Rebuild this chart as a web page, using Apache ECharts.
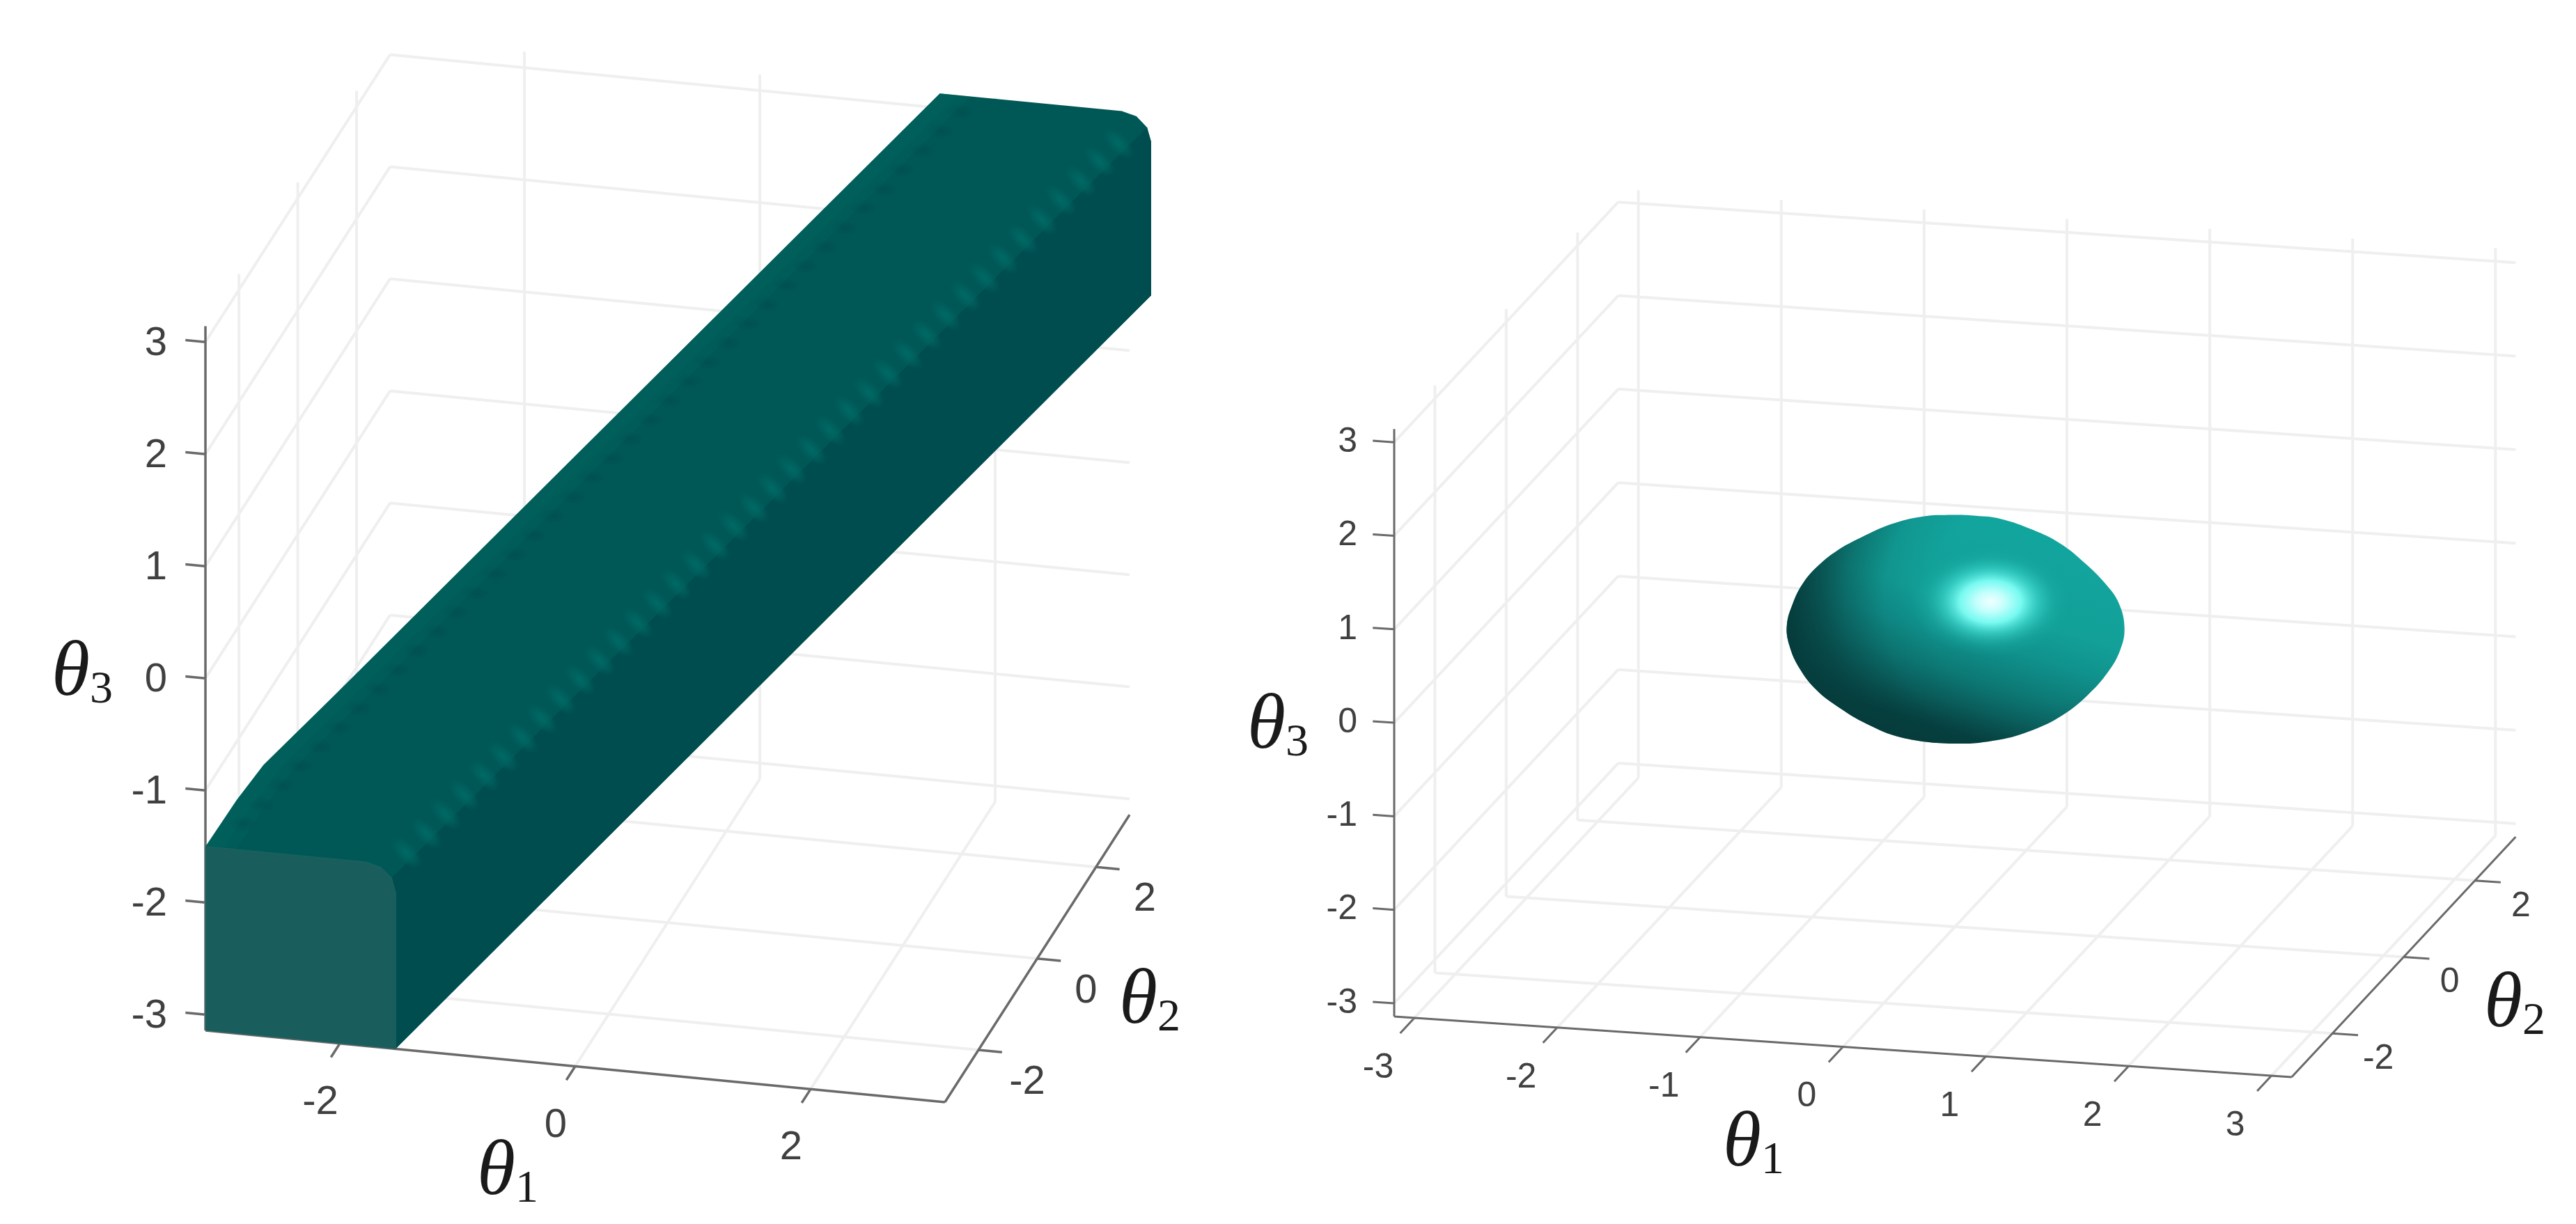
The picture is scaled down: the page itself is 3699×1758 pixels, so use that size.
<!DOCTYPE html>
<html>
<head>
<meta charset="utf-8">
<style>
  html, body { margin: 0; padding: 0; background: #fff; }
  #main { width: 3699px; height: 1758px; filter: blur(0.7px); }
</style>
<script src="https://cdn.jsdelivr.net/npm/echarts@6/dist/echarts.min.js"></script>
</head>
<body>
<div id="main"></div>
<script>
// axis limits and ticks, all in theta units
const thetaLim = 3.1416;
const leftTicks1 = [-2, 0, 2];
const leftTicks2 = [-2, 0, 2];
const leftTicks3 = [-3, -2, -1, 0, 1, 2, 3];
const rightTicks1 = [-3, -2, -1, 0, 1, 2, 3];
const rightTicks2 = [-2, 0, 2];
const rightTicks3 = [-3, -2, -1, 0, 1, 2, 3];

// left panel: tube, upper left edge
const edgeT1 = [-3.14, -2.94, -2.77, -2.33, 1.53];
const edgeT2 = [-3.14, -2.88, -2.65, -2.04, 3.14];
const edgeT3 = [-1.5, -1.17, -0.935, -0.528, 3.13];
// tube, near section (theta2 = -pi) outline as theta1 / theta3
const nearT1 = [-3.14, -1.525, -1.525, -1.56, -1.65, -1.775, -3.14];
const nearT3 = [-3.14, -3.14, -1.75, -1.62, -1.535, -1.5, -1.5];
// tube, far section (theta2 = pi) outline, lower right to upper left
const farT1 = [3.325, 3.325, 3.29, 3.2, 3.075, 1.53];
const farT3 = [1.51, 2.88, 3.005, 3.095, 3.13, 3.13];

// ripples along the right ridge of the tube
const rippleT2 = [-2.96, -2.8, -2.64, -2.48, -2.32, -2.16, -2, -1.84, -1.68, -1.52, -1.36, -1.2, -1.04, -0.88, -0.72, -0.56, -0.4, -0.24, -0.08, 0.08, 0.24, 0.4, 0.56, 0.72, 0.88, 1.04, 1.2, 1.36, 1.52, 1.68, 1.84, 2, 2.16, 2.32, 2.48, 2.64, 2.8, 2.96];
const rippleT1 = [-1.48, -1.35, -1.23, -1.11, -0.98, -0.86, -0.735, -0.61, -0.49, -0.365, -0.24, -0.12, 0.006, 0.13, 0.25, 0.38, 0.5, 0.62, 0.75, 0.87, 0.99, 1.12, 1.24, 1.36, 1.49, 1.61, 1.735, 1.86, 1.98, 2.11, 2.23, 2.35, 2.475, 2.6, 2.72, 2.85, 2.97, 3.09];
const rippleT3 = [-1.46, -1.34, -1.22, -1.1, -0.98, -0.865, -0.75, -0.63, -0.51, -0.39, -0.27, -0.155, -0.04, 0.08, 0.2, 0.32, 0.44, 0.56, 0.67, 0.79, 0.91, 1.03, 1.15, 1.27, 1.38, 1.5, 1.62, 1.74, 1.86, 1.98, 2.09, 2.21, 2.33, 2.45, 2.57, 2.69, 2.81, 2.92];
// dark dimples along the upper left edge, same theta2 stations as the ripples
const dimpleT1 = [-2.87, -2.745, -2.62, -2.495, -2.37, -2.245, -2.12, -1.995, -1.87, -1.745, -1.62, -1.49, -1.37, -1.24, -1.12, -0.99, -0.87, -0.74, -0.62, -0.49, -0.37, -0.24, -0.12, 0.01, 0.13, 0.26, 0.38, 0.51, 0.63, 0.76, 0.88, 1.01, 1.13, 1.26, 1.38, 1.51, 1.63, 1.76];
const dimpleT3 = [-1.345, -1.226, -1.107, -0.988, -0.869, -0.75, -0.631, -0.512, -0.393, -0.274, -0.155, -0.036, 0.083, 0.202, 0.321, 0.44, 0.559, 0.678, 0.797, 0.916, 1.035, 1.154, 1.273, 1.392, 1.511, 1.63, 1.749, 1.868, 1.987, 2.106, 2.225, 2.344, 2.463, 2.582, 2.701, 2.82, 2.939, 3.058];

// right panel: blob outline on the plane theta2 = 0, and its highlight
const blobT1 = [-0.011, -0.237, -0.446, -0.655, -0.829, -0.968, -1.064, -1.134, -1.177, -1.159, -1.09, -0.968, -0.811, -0.62, -0.376, -0.011, 0.303, 0.546, 0.755, 0.929, 1.068, 1.156, 1.187, 1.147, 1.051, 0.912, 0.738, 0.546, 0.32, 0.146];
const blobT3 = [1.261, 1.219, 1.118, 0.955, 0.791, 0.604, 0.421, 0.202, -0.042, -0.253, -0.486, -0.712, -0.882, -1.035, -1.156, -1.184, -1.112, -0.981, -0.8, -0.569, -0.316, -0.068, 0.175, 0.437, 0.639, 0.838, 1.032, 1.159, 1.254, 1.269];
const highlightT1 = 0.25;
const highlightT3 = 0.36;

// orthographic view of each panel, in page pixels, from the corner (-pi,-pi,-pi)
const leftView = {
  ox: 295, oy: 1480, e1: [169, 16.4], e2: [42.2, -65.7], e3: -161,
  font: 58, axisWidth: 3.5,
  zLabelX: -55, zLabelY: 3, xLabel: [-28, 85], yLabel: [70, 47],
  tickZ: 0.17, tickX: 0.3, tickY: 0.2
};
const rightView = {
  ox: 2002, oy: 1460, e1: [205.1, 13.85], e2: [51.2, -54.9], e3: -134.3,
  font: 50, axisWidth: 3,
  zLabelX: -53, zLabelY: 0, xLabel: [-52, 72], yLabel: [66, 37],
  tickZ: 0.15, tickX: 0.4, tickY: 0.18
};

function project(view, t1, t2, t3) {
  const a = t1 + thetaLim, b = t2 + thetaLim, c = t3 + thetaLim;
  return [
    view.ox + view.e1[0] * a + view.e2[0] * b,
    view.oy + view.e1[1] * a + view.e2[1] * b + view.e3 * c
  ];
}

// turn a list of [from, to] theta segments into line series data with gaps
function segmentsToLine(view, segs) {
  const out = [];
  segs.forEach(function (s) {
    out.push(project(view, s[0][0], s[0][1], s[0][2]));
    out.push(project(view, s[1][0], s[1][1], s[1][2]));
    out.push([null, null]);
  });
  return out;
}

function gridSegments(ticks1, ticks2, ticks3) {
  const L = thetaLim, segs = [];
  ticks1.forEach(function (t) {
    segs.push([[t, -L, -L], [t, L, -L]]);
    segs.push([[t, L, -L], [t, L, L]]);
  });
  ticks2.forEach(function (t) {
    segs.push([[-L, t, -L], [L, t, -L]]);
    segs.push([[-L, t, -L], [-L, t, L]]);
  });
  ticks3.forEach(function (t) {
    segs.push([[-L, -L, t], [-L, L, t]]);
    segs.push([[-L, L, t], [L, L, t]]);
  });
  return segs;
}

function axisSegments(view, ticks1, ticks2, ticks3) {
  const L = thetaLim;
  const segs = [
    [[-L, -L, -L], [-L, -L, L]],
    [[-L, -L, -L], [L, -L, -L]],
    [[L, -L, -L], [L, L, -L]]
  ];
  ticks1.forEach(function (t) { segs.push([[t, -L, -L], [t, -L - view.tickX, -L]]); });
  ticks2.forEach(function (t) { segs.push([[L, t, -L], [L + view.tickY, t, -L]]); });
  ticks3.forEach(function (t) { segs.push([[-L, -L, t], [-L - view.tickZ, -L, t]]); });
  return segs;
}

function lineSeries(name, data, index, color, width, z) {
  return {
    name: name,
    type: 'line',
    xAxisIndex: index,
    yAxisIndex: index,
    data: data,
    symbol: 'none',
    silent: true,
    clip: false,
    connectNulls: false,
    animation: false,
    lineStyle: { color: color, width: width },
    z: z
  };
}

// polygons, circles and text all go through one custom series per panel
function shapeSeries(name, items, index, z) {
  return {
    name: name,
    type: 'custom',
    coordinateSystem: 'cartesian2d',
    xAxisIndex: index,
    yAxisIndex: index,
    silent: true,
    clip: false,
    animation: false,
    z: z,
    data: items.map(function (it, i) { return [i]; }),
    renderItem: function (params, api) {
      const it = items[params.dataIndex];
      if (it.kind === 'polygon') {
        return {
          type: 'polygon',
          shape: { points: it.points.map(function (p) { return api.coord(p); }), smooth: it.smooth || 0 },
          style: it.style
        };
      }
      const at = api.coord(it.at);
      if (it.kind === 'spot') {
        return {
          type: 'circle',
          x: at[0], y: at[1],
          rotation: it.rotation || 0,
          scaleX: it.scaleX, scaleY: it.scaleY,
          shape: { cx: 0, cy: 0, r: it.r },
          style: it.style
        };
      }
      return {
        type: 'text',
        style: Object.assign({ x: at[0] + it.dx, y: at[1] + it.dy, text: it.text }, it.style)
      };
    }
  };
}

function tickLabels(view, ticks1, ticks2, ticks3) {
  const L = thetaLim, items = [];
  const style = {
    fill: '#404040',
    font: view.font + 'px "Liberation Sans"',
    align: 'center',
    verticalAlign: 'middle'
  };
  ticks1.forEach(function (t) {
    items.push({ kind: 'text', at: project(view, t, -L, -L), dx: view.xLabel[0], dy: view.xLabel[1], text: String(t), style: style });
  });
  ticks2.forEach(function (t) {
    items.push({ kind: 'text', at: project(view, L, t, -L), dx: view.yLabel[0], dy: view.yLabel[1], text: String(t), style: style });
  });
  ticks3.forEach(function (t) {
    items.push({
      kind: 'text', at: project(view, -L, -L, t), dx: view.zLabelX, dy: view.zLabelY, text: String(t),
      style: Object.assign({}, style, { align: 'right' })
    });
  });
  return items;
}

function thetaName(text, x, y) {
  return {
    kind: 'text', at: [x, y], dx: 0, dy: 0,
    text: '{t|θ}{s|' + text + '}',
    style: {
      align: 'center',
      verticalAlign: 'middle',
      rich: {
        t: { font: 'italic 112px "Liberation Serif"', fill: '#1a1a1a', lineHeight: 112, verticalAlign: 'middle' },
        s: { font: '66px "Liberation Serif"', fill: '#1a1a1a', lineHeight: 66, padding: [44, 0, 0, 0], verticalAlign: 'bottom' }
      }
    }
  };
}

function tubeItems(view) {
  const L = thetaLim, items = [];
  const near = nearT1.map(function (t, i) { return project(view, t, -L, nearT3[i]); });
  const far = farT1.map(function (t, i) { return project(view, t, L, farT3[i]); });
  const edge = edgeT1.map(function (t, i) { return project(view, t, edgeT2[i], edgeT3[i]); });

  // whole outline in the colour of the top face
  items.push({
    kind: 'polygon',
    points: [project(view, -3.14, -L, -3.14), project(view, -1.525, -L, -3.14)]
      .concat(far.slice(0, 5))
      .concat(edge.slice().reverse()),
    style: { fill: '#005856' }
  });
  // lighter lane under the upper left edge
  [0.26, 0.15].forEach(function (inset) {
    items.push({
      kind: 'polygon',
      points: edge.concat(edgeT1.slice().reverse().map(function (t, i) {
        const k = edgeT1.length - 1 - i;
        return project(view, t + inset, edgeT2[k], edgeT3[k]);
      })),
      style: { fill: 'rgba(0,104,100,0.25)' }
    });
  });
  dimpleT1.forEach(function (t, i) {
    items.push({
      kind: 'spot', at: project(view, t, rippleT2[i], dimpleT3[i]), r: 21, scaleX: 1, scaleY: 0.55,
      style: {
        fill: {
          type: 'radial', x: 0.5, y: 0.5, r: 0.5, colorStops: [
            { offset: 0, color: 'rgba(0,72,74,0.45)' },
            { offset: 1, color: 'rgba(0,72,74,0)' }
          ]
        }
      }
    });
  });
  // side face
  items.push({
    kind: 'polygon',
    points: [
      project(view, -1.525, -L, -3.14),
      project(view, 3.325, L, 1.51),
      project(view, 3.325, L, 2.88),
      project(view, 3.29, L, 3.005),
      project(view, -1.56, -L, -1.62),
      project(view, -1.525, -L, -1.75)
    ],
    style: { fill: '#004d4f' }
  });
  rippleT1.forEach(function (t, i) {
    items.push({
      kind: 'spot', at: project(view, t, rippleT2[i], rippleT3[i]), r: 29, scaleX: 1, scaleY: 0.5, rotation: -Math.PI / 4,
      style: {
        fill: {
          type: 'radial', x: 0.5, y: 0.5, r: 0.5, colorStops: [
            { offset: 0, color: 'rgba(0,106,100,1)' },
            { offset: 0.5, color: 'rgba(0,100,96,0.7)' },
            { offset: 1, color: 'rgba(0,96,92,0)' }
          ]
        }
      }
    });
  });
  // near end face
  items.push({ kind: 'polygon', points: near, style: { fill: '#195e5c', stroke: '#1d6361', lineWidth: 1 } });
  return items;
}

function blobItems(view) {
  const pts = blobT1.map(function (t, i) { return project(view, t, 0, blobT3[i]); });
  const hi = project(view, highlightT1, 0, highlightT3);
  return [
    {
      kind: 'polygon', points: pts, smooth: 0.4,
      style: {
        fill: {
          type: 'linear', x: 0.62, y: 0.05, x2: 0.42, y2: 1.02, colorStops: [
            { offset: 0, color: '#12a59e' },
            { offset: 0.35, color: '#12a098' },
            { offset: 0.5, color: '#10918c' },
            { offset: 0.65, color: '#0d7a76' },
            { offset: 0.78, color: '#0a5f5d' },
            { offset: 0.9, color: '#064040' },
            { offset: 1, color: '#063a3a' }
          ]
        }
      }
    },
    {
      kind: 'polygon', points: pts, smooth: 0.4,
      style: {
        fill: {
          type: 'radial', x: 0.72, y: 0.38, r: 1.1, colorStops: [
            { offset: 0, color: 'rgba(6,60,60,0)' },
            { offset: 0.41, color: 'rgba(6,60,60,0)' },
            { offset: 0.58, color: 'rgba(6,60,60,0.12)' },
            { offset: 0.73, color: 'rgba(6,60,60,0.45)' },
            { offset: 0.82, color: 'rgba(6,60,60,0.7)' },
            { offset: 0.96, color: 'rgba(6,60,60,1)' },
            { offset: 1, color: 'rgba(6,60,60,1)' }
          ]
        }
      }
    },
    {
      kind: 'spot', at: hi, r: 80, scaleX: 1.45, scaleY: 1,
      style: {
        fill: {
          type: 'radial', x: 0.5, y: 0.5, r: 0.5, colorStops: [
            { offset: 0, color: 'rgba(240,255,255,1)' },
            { offset: 0.18, color: 'rgba(195,255,252,1)' },
            { offset: 0.38, color: 'rgba(125,255,246,0.95)' },
            { offset: 0.58, color: 'rgba(70,225,215,0.6)' },
            { offset: 0.8, color: 'rgba(35,185,175,0.25)' },
            { offset: 1, color: 'rgba(20,165,158,0)' }
          ]
        }
      }
    }
  ];
}

function panelSeries(view, index, ticks1, ticks2, ticks3, shapes, names) {
  return [
    lineSeries('grid', segmentsToLine(view, gridSegments(ticks1, ticks2, ticks3)), index, '#efefef', 4, 1),
    lineSeries('axes', segmentsToLine(view, axisSegments(view, ticks1, ticks2, ticks3)), index, '#6a6a6a', view.axisWidth, 2),
    shapeSeries('surface', shapes, index, 3),
    shapeSeries('labels', tickLabels(view, ticks1, ticks2, ticks3).concat(names), index, 4)
  ];
}

const chart = echarts.init(document.getElementById('main'), null, { renderer: 'canvas' });

chart.setOption({
  backgroundColor: '#ffffff',
  animation: false,
  tooltip: { show: false },
  // hidden plot frames, one per panel, measured in page pixels
  grid: [
    { left: 0, top: 0, width: 1800, height: 1758, show: false },
    { left: 1800, top: 0, width: 1899, height: 1758, show: false }
  ],
  xAxis: [
    { type: 'value', gridIndex: 0, min: 0, max: 1800, show: false },
    { type: 'value', gridIndex: 1, min: 1800, max: 3699, show: false }
  ],
  yAxis: [
    { type: 'value', gridIndex: 0, min: 0, max: 1758, inverse: true, show: false },
    { type: 'value', gridIndex: 1, min: 0, max: 1758, inverse: true, show: false }
  ],
  series: [].concat(
    panelSeries(leftView, 0, leftTicks1, leftTicks2, leftTicks3, tubeItems(leftView), [
      thetaName('3', 118, 969), thetaName('1', 729, 1686), thetaName('2', 1651, 1440)
    ]),
    panelSeries(rightView, 1, rightTicks1, rightTicks2, rightTicks3, blobItems(rightView), [
      thetaName('3', 1835, 1045), thetaName('1', 2518, 1645), thetaName('2', 3611, 1445)
    ])
  )
});
</script>
</body>
</html>
